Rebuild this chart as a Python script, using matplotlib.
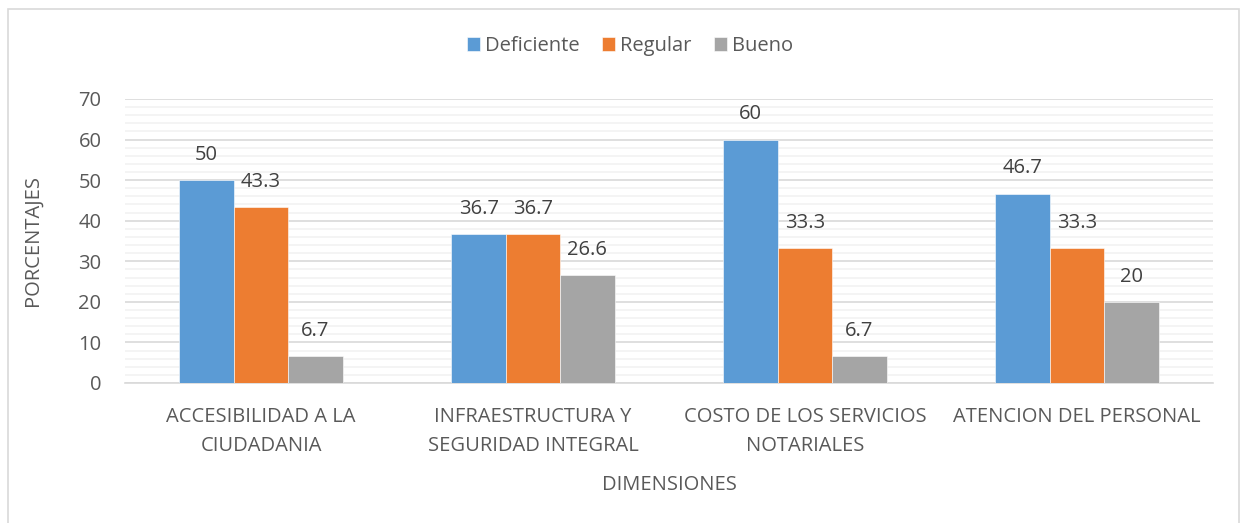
import numpy as np
import matplotlib
matplotlib.use("Agg")
import matplotlib.pyplot as plt
from matplotlib.patches import Rectangle

plt.rcParams['font.family'] = ['Open Sans', 'DejaVu Sans']

# data
categorias = ['ACCESIBILIDAD A LA\nCIUDADANIA',
              'INFRAESTRUCTURA Y\nSEGURIDAD INTEGRAL',
              'COSTO DE LOS SERVICIOS\nNOTARIALES',
              'ATENCION DEL PERSONAL']
series = ['Deficiente', 'Regular', 'Bueno']
deficiente = [50, 36.7, 60, 46.7]
regular = [43.3, 36.7, 33.3, 33.3]
bueno = [6.7, 26.6, 6.7, 20]
etiquetas = [['50', '36.7', '60', '46.7'],
             ['43.3', '36.7', '33.3', '33.3'],
             ['6.7', '26.6', '6.7', '20']]

colores = ['#5B9BD5', '#ED7D31', '#A5A5A5']
txt = '#595959'
fs = 14.5

fig = plt.figure(figsize=(12.42, 5.23), dpi=100)
ax = fig.add_axes([125 / 1242, 1 - 383 / 523, (1213 - 125) / 1242, 284 / 523])

# chart border
fig.patches.append(Rectangle((8 / 1242, -0.01), (1239 - 8) / 1242, (523 - 9) / 523 + 0.01,
                             transform=fig.transFigure, fill=False,
                             edgecolor='#D9D9D9', lw=1.2))

x = np.arange(len(categorias))
w = 0.2
valores = [deficiente, regular, bueno]
for i, (vals, col, name) in enumerate(zip(valores, colores, series)):
    pos = x + (i - 1) * w
    bars = ax.bar(pos, vals, w, color=col, label=name, edgecolor='white',
                  linewidth=0.4, zorder=3)
    for b, lab in zip(bars, etiquetas[i]):
        ax.annotate(lab, (b.get_x() + b.get_width() / 2, b.get_height()),
                    xytext=(0, 11), textcoords='offset points',
                    ha='center', va='bottom', fontsize=fs, color='#404040')

ax.set_xlim(-0.5, len(categorias) - 0.5)
ax.set_ylim(0, 70)
ax.set_yticks(np.arange(0, 71, 10))
ax.set_yticks(np.arange(0, 71, 2), minor=True)
ax.grid(axis='y', which='major', color='#D9D9D9', lw=1.2, zorder=0)
ax.grid(axis='y', which='minor', color='#F2F2F2', lw=1.2, zorder=0)
ax.set_axisbelow(True)
for s in ['top', 'right', 'left']:
    ax.spines[s].set_visible(False)
ax.spines['bottom'].set_color('#D9D9D9')
ax.spines['bottom'].set_linewidth(1.2)
ax.tick_params(axis='both', which='both', length=0, labelsize=fs, colors=txt)
ax.tick_params(axis='y', pad=17)
ax.tick_params(axis='x', pad=17)
ax.set_xticks(x)
ax.set_xticklabels(categorias, linespacing=1.6)

ax.set_xlabel('DIMENSIONES', fontsize=fs, color=txt, labelpad=14)
ax.set_ylabel('PORCENTAJES', fontsize=fs, color=txt)
ax.yaxis.set_label_coords(-0.076, 0.5)

leg = fig.legend(loc='center', bbox_to_anchor=(630 / 1242, 1 - 46 / 523), ncol=3,
                 frameon=False, fontsize=fs, handlelength=0.65, handleheight=0.7,
                 handletextpad=0.25, columnspacing=1.1)
for t in leg.get_texts():
    t.set_color(txt)

fig.savefig('out.png', dpi=100)
